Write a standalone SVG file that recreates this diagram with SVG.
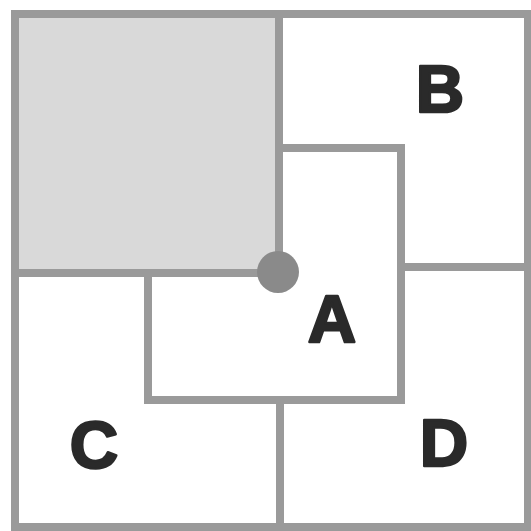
<svg xmlns="http://www.w3.org/2000/svg" width="531" height="531" viewBox="0 0 531 531">
<style>
.ln{fill:none;stroke:#9a9a9a;stroke-width:8;stroke-linecap:square}
.lbl{font-family:"Liberation Sans",Arial,sans-serif;font-weight:bold;font-size:67px;fill:#2a2a2a;stroke:#2a2a2a;stroke-width:2.5;stroke-linejoin:round;text-anchor:middle}
</style>
<rect width="531" height="531" fill="#ffffff"/>
<g id="shaded">
<rect x="15" y="14" width="264" height="259" fill="#d9d9d9"/>
</g>
<g id="connectors">
<rect class="ln" x="15" y="14" width="513" height="513"/>
<polyline class="ln" points="279,14 279,273 15,273"/>
<polyline class="ln" points="279,148 401,148 401,400 148,400 148,273"/>
<line class="ln" x1="401" y1="267" x2="528" y2="267"/>
<line class="ln" x1="280" y1="400" x2="280" y2="527"/>
</g>
<g id="joint"><circle cx="278" cy="272" r="21" fill="#8a8a8a"/></g>
<g id="nodeA"><text class="lbl" x="332" y="342">A</text></g>
<g id="nodeB"><text class="lbl" x="440" y="112">B</text></g>
<g id="nodeC"><text class="lbl" x="94" y="468">C</text></g>
<g id="nodeD"><text class="lbl" x="444" y="466">D</text></g>
</svg>
